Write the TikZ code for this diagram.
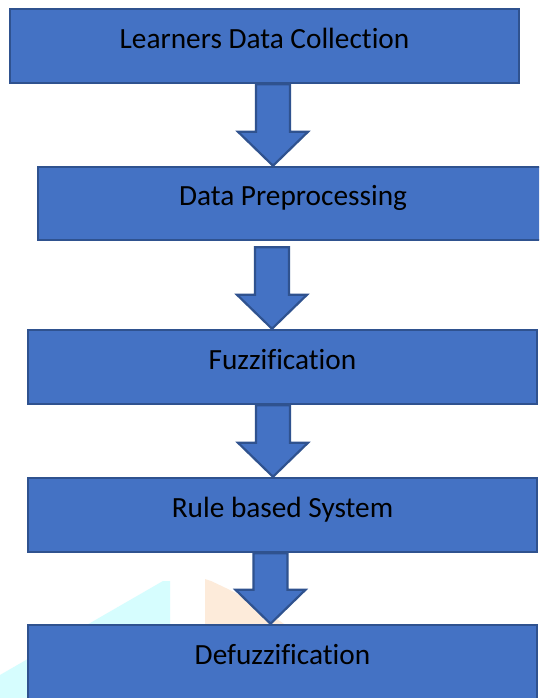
\documentclass[tikz,border=0pt]{standalone}
\usepackage{fontspec}
\setmainfont{Carlito}[Ligatures={NoCommon}]
\usetikzlibrary{calc}

\definecolor{boxfill}{HTML}{4472C4}
\definecolor{boxline}{HTML}{2F528F}
\definecolor{tintcyan}{HTML}{D6FDFE}
\definecolor{tintpeach}{HTML}{FDEBDA}

\tikzset{
  stage/.style={draw=boxline, fill=boxfill, line width=2.5pt,
    minimum width=509pt, minimum height=74pt, inner sep=0pt,
    text height=22pt, text depth=17.4pt,
    font=\fontsize{29.3pt}{34pt}\selectfont, text=black},
  blockarrow/.style={draw=boxline, fill=boxfill, line width=2.2pt, line join=miter}
}

% block arrow: #1 start of the shaft, #2 tip
\newcommand{\flowarrow}[2]{%
  \draw[blockarrow] ($(#1)+(-17,0)$) -- ($(#2)+(-17,-34)$) -- ($(#2)+(-35,-34)$)
    -- (#2) -- ($(#2)+(35,-34)$) -- ($(#2)+(17,-34)$) -- ($(#1)+(17,0)$) -- cycle;}

\begin{document}
\begin{tikzpicture}[x=1pt, y=-1pt]
  \useasboundingbox (0,0) rectangle (539,698);
  \clip (0,0) rectangle (539,698);
  \fill[white] (0,0) rectangle (539,698);

  % faint tinted shapes in the lower left
  \fill[tintcyan] (0,675) -- (163,581) -- (170,581) -- (170,698) -- (0,698) -- cycle;
  \fill[tintpeach] (205,579) -- (211,581) .. controls (245,597) .. (287,626) -- (205,626) -- cycle;

  % process stages
  \node[stage] (b1) at (264.5,46) {Learners Data Collection};
  \node[stage, minimum width=510pt, minimum height=73pt] (b2) at (293,203.5) {Data Preprocessing};
  \node[stage] (b3) at (282.5,367) {Fuzzification};
  \node[stage] (b4) at (282.5,515) {Rule based System};
  \node[stage] (b5) at (282.5,662) {Defuzzification};

  % arrow end points
  \coordinate (s1) at (273,0 |- b1.south);
  \coordinate (e1) at (273,0 |- b2.north);
  \coordinate (s2) at ($(272,0 |- b2.south)+(0,6)$);
  \coordinate (e2) at (272,0 |- b3.north);
  \coordinate (s3) at (273,0 |- b3.south);
  \coordinate (e3) at (273,0 |- b4.north);
  \coordinate (s4) at (270.5,0 |- b4.south);
  \coordinate (e4) at (270.5,0 |- b5.north);

  \flowarrow{s1}{e1}
  \flowarrow{s2}{e2}
  \flowarrow{s3}{e3}
  \flowarrow{s4}{e4}
\end{tikzpicture}
\end{document}
